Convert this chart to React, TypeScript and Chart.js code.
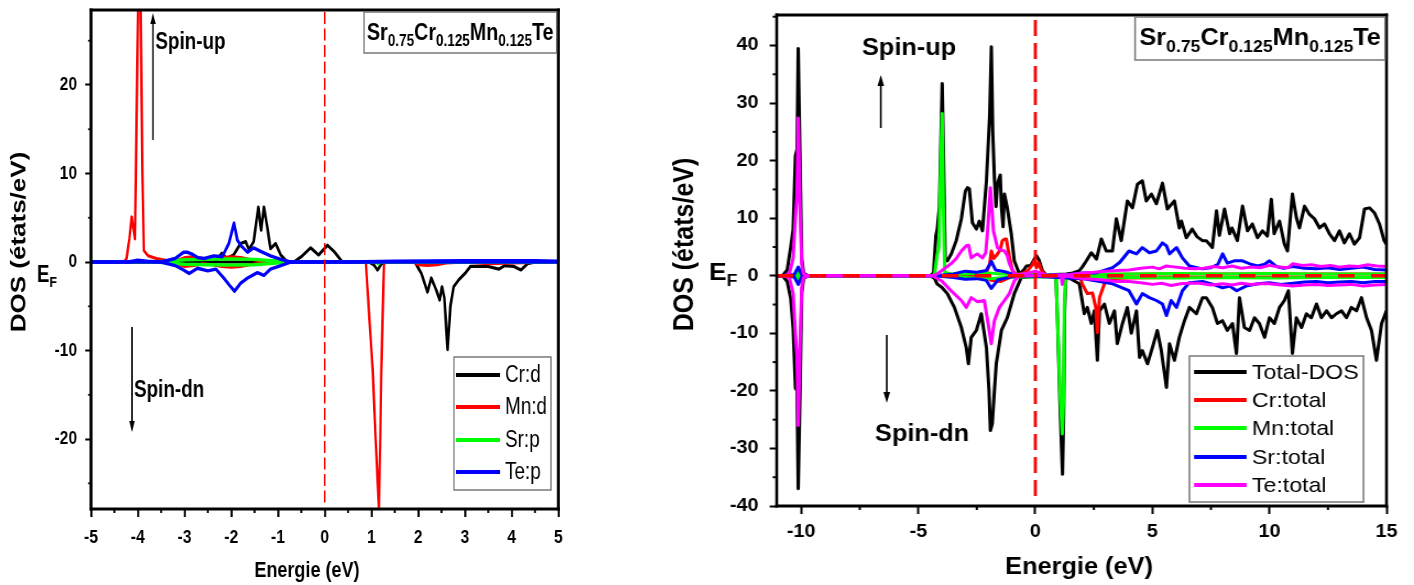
import React, { useEffect, useRef } from 'react';
import { Chart, registerables } from 'chart.js';

Chart.register(...registerables);

const FONT = '"Liberation Sans", Arial, Helvetica, sans-serif';

type Pt = [number, number];

// ---------------- LEFT PANEL DATA (E in eV, DOS in états/eV) ----------------
const leftXTicks = { min: -5, max: 5, step: 1 };
const leftYRange = { min: -27.9, max: 28.47, step: 10 };
const leftLegendLabels = ['Cr:d', 'Mn:d', 'Sr:p', 'Te:p'];
const leftColors = ['#000000', '#ff0000', '#00ff00', '#0000ff'];

const crdUp: Pt[] = [[-5, 0], [-2.45, 0], [-2.3, 0.3], [-2.2, 1.0], [-2.1, 0.4], [-1.95, 0.8], [-1.8, 2.1], [-1.69, 2.3], [-1.62, 1.4], [-1.52, 2.3], [-1.42, 6.2], [-1.36, 3.6], [-1.3, 6.2], [-1.23, 4.0], [-1.16, 1.5], [-1.05, 2.1], [-0.94, 0.8], [-0.8, 0], [-0.66, 0], [-0.5, 0.6], [-0.3, 1.6], [-0.13, 0.8], [0.06, 1.9], [0.2, 1.2], [0.38, 0], [5, 0]];
const crdDn: Pt[] = [[-5, 0], [0.95, 0], [1.05, -0.3], [1.13, -0.9], [1.22, -0.2], [1.35, 0], [1.93, 0], [2.07, -1.3], [2.2, -3.4], [2.28, -1.8], [2.39, -3.2], [2.46, -4.3], [2.51, -2.8], [2.56, -4.0], [2.63, -9.9], [2.69, -5.0], [2.76, -2.8], [2.87, -2.0], [3.0, -1.3], [3.12, -0.5], [3.5, -0.5], [3.73, -0.8], [3.85, -0.4], [4.05, -0.5], [4.2, -0.9], [4.34, -0.2], [4.5, 0], [5, 0]];
const mndUp: Pt[] = [[-5, 0], [-4.3, 0], [-4.24, 0.4], [-4.18, 2.6], [-4.13, 5.1], [-4.06, 2.6], [-3.99, 30], [-3.95, 34], [-3.9, 10], [-3.87, 1.3], [-3.78, 0.7], [-3.6, 0.4], [-3.4, 0.2], [-3.2, 0.1], [-3.0, 0.5], [-2.8, 0.6], [-2.6, 0.4], [-2.4, 0.3], [-2.2, 0.5], [-2.0, 0.6], [-1.8, 0.5], [-1.6, 0.3], [-1.3, 0.1], [-1.0, 0], [5, 0]];
const mndDn: Pt[] = [[-5, 0], [-3.4, 0], [-3.2, -0.2], [-3.0, -0.5], [-2.8, -0.4], [-2.6, -0.2], [-2.4, -0.3], [-2.2, -0.5], [-2.0, -0.6], [-1.8, -0.5], [-1.6, -0.3], [-1.3, -0.1], [-1.0, 0], [0.88, 0], [1.03, -12.5], [1.09, -20], [1.16, -27.7], [1.19, -20], [1.21, -12.5], [1.27, 0], [1.9, 0], [2.0, -0.3], [2.2, -0.4], [2.4, -0.3], [2.6, -0.1], [3.0, 0], [3.5, -0.2], [4.0, -0.1], [5, 0]];
const srpUp: Pt[] = [[-5, 0], [-3.6, 0], [-3.4, 0.1], [-3.0, 0.25], [-2.5, 0.3], [-2.0, 0.35], [-1.5, 0.3], [-1.1, 0.15], [-0.8, 0], [5, 0]];
const srpDn: Pt[] = [[-5, 0], [-3.6, 0], [-3.4, -0.1], [-3.0, -0.25], [-2.5, -0.3], [-2.0, -0.35], [-1.5, -0.3], [-1.1, -0.15], [-0.8, 0], [1.1, 0], [1.15, -0.2], [1.2, 0], [5, 0]];
const tepUp: Pt[] = [[-5, 0], [-4.2, 0], [-4.0, 0.2], [-3.8, 0.1], [-3.5, 0], [-3.2, 0.4], [-3.02, 1.1], [-2.93, 1.1], [-2.84, 0.9], [-2.72, 0.5], [-2.58, 0.4], [-2.37, 0.7], [-2.19, 0.6], [-2.05, 2.1], [-1.94, 4.4], [-1.87, 2.5], [-1.8, 1.9], [-1.65, 1.1], [-1.52, 1.6], [-1.37, 1.2], [-1.16, 0.7], [-0.94, 0.3], [-0.73, 0], [0.5, 0], [1.5, 0.1], [3.0, 0.15], [4.5, 0.15], [5, 0.1]];
const tepDn: Pt[] = [[-5, 0], [-3.5, 0], [-3.2, -0.4], [-3.02, -0.9], [-2.9, -1.3], [-2.72, -0.7], [-2.5, -1.0], [-2.33, -0.8], [-2.16, -1.8], [-2.01, -2.8], [-1.93, -3.3], [-1.8, -2.4], [-1.65, -1.8], [-1.44, -1.2], [-1.3, -1.5], [-1.16, -0.8], [-0.94, -0.4], [-0.73, 0], [5, 0]];

// ---------------- RIGHT PANEL DATA ----------------
const rightXTicks = { min: -11.05, max: 15, step: 5 };
const rightYRange = { min: -40, max: 45.3, step: 10 };
const rightLegendLabels = ['Total-DOS', 'Cr:total', 'Mn:total', 'Sr:total', 'Te:total'];
const rightColors = ['#000000', '#ff0000', '#00ff00', '#0000ff', '#ff00ff'];

const totUp: Pt[] = [[-11.05, 0], [-10.8, 0], [-10.6, 1], [-10.45, 5], [-10.35, 8], [-10.25, 20.8], [-10.18, 22], [-10.13, 39.5], [-10.05, 20], [-9.98, 3], [-9.9, 0.5], [-9.7, 0], [-4.5, 0], [-4.35, 0.5], [-4.25, 7], [-4.19, 8.1], [-4.1, 12], [-3.98, 33.4], [-3.92, 20], [-3.85, 3], [-3.76, 2.6], [-3.59, 3.8], [-3.38, 6.1], [-3.16, 9.9], [-2.99, 14.7], [-2.9, 15.3], [-2.82, 15.1], [-2.69, 9.2], [-2.52, 8.1], [-2.39, 9.5], [-2.26, 7.8], [-2.09, 16.5], [-1.95, 28], [-1.88, 39.8], [-1.82, 25], [-1.75, 17], [-1.68, 12], [-1.62, 15.9], [-1.5, 17.5], [-1.45, 12], [-1.38, 8.5], [-1.32, 14.2], [-1.2, 11.8], [-1.03, 7.3], [-0.9, 2.6], [-0.68, 0.3], [-0.5, 1.0], [-0.38, 1.7], [-0.2, 1.8], [-0.1, 2.5], [0.04, 3.5], [0.15, 2.8], [0.3, 0.9], [0.47, 0.1], [0.8, 0.2], [1.32, 0.3], [1.6, 0.5], [1.88, 0.9], [2.0, 1.5], [2.18, 2.6], [2.39, 4.0], [2.61, 2.9], [2.82, 6.4], [3.03, 4.3], [3.29, 4.3], [3.46, 9.9], [3.67, 6.1], [3.93, 13], [4.15, 11.8], [4.36, 15.9], [4.57, 16.5], [4.74, 13], [4.96, 14.2], [5.17, 12.5], [5.43, 16.1], [5.64, 11.6], [5.94, 13], [6.15, 8.3], [6.24, 9.5], [6.45, 6.6], [6.7, 8.1], [6.9, 6.8], [7.14, 6.1], [7.3, 6.1], [7.56, 4.9], [7.74, 11.3], [7.86, 7], [8.08, 11.6], [8.3, 7.3], [8.4, 8.3], [8.63, 6.1], [8.85, 12.1], [9.06, 7.8], [9.27, 9], [9.49, 6.6], [9.7, 7.8], [9.91, 6.9], [10.08, 13.3], [10.2, 7.3], [10.43, 9.5], [10.64, 5.5], [10.77, 4.3], [10.98, 14.2], [11.15, 10.1], [11.28, 8.3], [11.5, 12.1], [11.7, 10.7], [11.92, 9.9], [12.14, 8.3], [12.35, 9], [12.56, 7.3], [12.78, 6.1], [12.99, 7.8], [13.2, 5.7], [13.42, 7.3], [13.63, 5.5], [13.85, 6.6], [14.06, 11.6], [14.27, 11.8], [14.49, 10.9], [14.7, 9], [14.9, 6.1], [15, 5.5]];
const totDn: Pt[] = [[-11.05, 0], [-10.8, 0], [-10.6, -1], [-10.45, -4], [-10.35, -9], [-10.25, -19.5], [-10.18, -20], [-10.13, -37], [-10.05, -20], [-9.98, -3], [-9.9, -0.5], [-9.7, 0], [-4.5, 0], [-4.3, -0.5], [-4.2, -1.4], [-4.0, -2], [-3.76, -3.1], [-3.46, -5.5], [-3.16, -9], [-2.95, -12.5], [-2.86, -15.3], [-2.74, -10.7], [-2.52, -9.5], [-2.31, -6.6], [-2.09, -12.5], [-1.98, -20], [-1.92, -26.9], [-1.84, -25.7], [-1.75, -20], [-1.67, -15.3], [-1.45, -9.5], [-1.2, -7.3], [-0.9, -3.1], [-0.6, -0.3], [-0.3, -0.2], [0.5, -0.1], [0.88, -0.2], [0.95, -8], [1.05, -22], [1.16, -34.5], [1.21, -24], [1.25, -6], [1.3, -0.5], [1.4, -0.3], [1.88, -1.4], [2.09, -6.6], [2.22, -5.5], [2.39, -8.3], [2.52, -6.1], [2.65, -14.7], [2.74, -6.1], [2.95, -4.9], [3.16, -8.3], [3.38, -6.1], [3.5, -11.8], [3.72, -8.3], [3.93, -5.5], [4.1, -10], [4.32, -6.1], [4.45, -14.2], [4.57, -13], [4.79, -15.3], [5.0, -12.5], [5.21, -9.5], [5.38, -13], [5.6, -19.4], [5.73, -11.8], [5.94, -14.7], [6.15, -10.7], [6.37, -7.8], [6.58, -5.5], [6.88, -6.6], [7.14, -3.8], [7.3, -3.8], [7.56, -5.5], [7.78, -8.3], [7.99, -7.8], [8.2, -9.5], [8.42, -8.3], [8.59, -13.5], [8.72, -3.8], [8.93, -9], [9.15, -9.5], [9.36, -7.3], [9.57, -8.3], [9.79, -10.7], [10.0, -7.3], [10.21, -8.3], [10.43, -5.5], [10.64, -4.3], [10.81, -2.6], [10.98, -13.5], [11.15, -7.3], [11.37, -9], [11.58, -6.6], [11.79, -7.3], [12.01, -4.9], [12.22, -7.3], [12.44, -6.1], [12.65, -7.3], [12.86, -6.6], [13.08, -6.1], [13.29, -7.3], [13.5, -5.5], [13.72, -6.1], [13.93, -3.8], [14.15, -7.3], [14.36, -9.5], [14.57, -14.7], [14.79, -8.3], [15, -6.1]];
const crUp: Pt[] = [[-11.05, 0], [-2.3, 0], [-2.1, 0.5], [-1.95, 2], [-1.88, 4.3], [-1.78, 3], [-1.67, 3.5], [-1.5, 4.5], [-1.41, 6.1], [-1.3, 6.4], [-1.24, 6.4], [-1.1, 3.1], [-0.98, 0.9], [-0.8, 0.2], [-0.55, 0.4], [-0.3, 1.0], [-0.15, 1.8], [-0.05, 2.6], [0.05, 1.4], [0.13, 2.3], [0.25, 1.0], [0.4, 0.2], [0.6, 0], [2, 0.2], [5, 0.3], [10, 0.3], [15, 0.3]];
const crDn: Pt[] = [[-11.05, 0], [-2.2, 0], [-1.9, -0.8], [-1.5, -1], [-1.2, -0.5], [-0.9, 0], [1.9, 0], [2.0, -1.4], [2.22, -3.1], [2.44, -3.0], [2.58, -5.5], [2.65, -9.9], [2.74, -3.8], [2.95, -1.4], [3.08, -0.5], [4, -0.4], [6, -0.3], [10, -0.3], [15, -0.3]];
const mnUp: Pt[] = [[-11.05, 0], [-10.2, 0], [-10.12, 0.6], [-10.05, 0], [-4.4, 0], [-4.3, 0.4], [-4.2, 3.5], [-4.12, 5], [-4.04, 20], [-3.98, 28.2], [-3.93, 12], [-3.87, 0.6], [-3.6, 0.3], [-3, 0.3], [-2, 0.5], [-1.5, 0.3], [-1, 0.2], [0, 0.3], [1, 0.1], [2, 0.2], [4, 0.3], [6, 0.4], [8, 0.3], [10, 0.4], [12, 0.3], [15, 0.3]];
const mnDn: Pt[] = [[-11.05, 0], [-10.2, 0], [-10.12, -0.6], [-10.05, 0], [-4.4, 0], [-3, -0.3], [-2, -0.5], [-1, -0.2], [0.88, -0.2], [0.95, -8], [1.05, -20], [1.15, -27.5], [1.2, -22], [1.24, -5], [1.3, -0.5], [1.4, -0.2], [2, -0.2], [4, -0.3], [6, -0.4], [8, -0.3], [10, -0.4], [12, -0.3], [15, -0.3]];
const srUp: Pt[] = [[-11.05, 0], [-10.3, 0.2], [-10.13, 1.5], [-9.98, 0.2], [-9.8, 0], [-4.3, 0], [-3.5, 0.3], [-3.0, 0.8], [-2.5, 0.6], [-2.1, 0.9], [-1.88, 2.5], [-1.7, 1.0], [-1.3, 0.7], [-0.9, 0.2], [-0.5, 0], [1.5, 0.2], [2.0, 0.5], [2.6, 0.5], [3.3, 1.4], [3.6, 2.3], [4.0, 4.3], [4.32, 3.8], [4.57, 4.9], [4.87, 4.0], [5.17, 4.3], [5.43, 5.7], [5.6, 5.2], [5.73, 3.8], [6.03, 4.9], [6.28, 3.1], [6.58, 1.7], [7.14, 1.2], [7.5, 1.4], [7.8, 2.0], [8.0, 3.8], [8.2, 2.2], [8.5, 2.6], [8.85, 2.6], [9.2, 2.0], [9.5, 1.7], [9.8, 2.0], [10.0, 2.6], [10.3, 1.6], [10.6, 1.3], [11, 1.6], [11.5, 1.3], [12, 1.2], [12.5, 1.4], [13, 1.1], [13.5, 1.3], [14, 1.5], [14.5, 1.1], [15, 1.0]];
const srDn: Pt[] = [[-11.05, 0], [-10.3, -0.2], [-10.13, -1.5], [-9.98, -0.2], [-9.8, 0], [-4.3, 0], [-3.5, -0.3], [-3.0, -0.6], [-2.5, -0.5], [-2.1, -0.8], [-1.88, -2.2], [-1.6, -0.7], [-1.0, -0.2], [-0.5, 0], [2.0, -0.5], [3.3, -1.4], [4.0, -2.6], [4.32, -4.9], [4.57, -3.1], [4.87, -3.8], [5.17, -4.3], [5.43, -4.9], [5.6, -6.9], [5.8, -4.3], [6.03, -5.5], [6.28, -2.6], [6.58, -1.2], [7.14, -1.0], [7.6, -1.5], [8.0, -2.1], [8.3, -1.8], [8.6, -2.6], [9.0, -1.8], [9.5, -1.4], [10, -1.2], [10.5, -1.5], [11, -1.3], [11.5, -1.1], [12, -1.0], [12.5, -1.2], [13, -1.1], [13.5, -1.0], [14, -1.2], [14.5, -1.0], [15, -1.0]];
const teUp: Pt[] = [[-11.05, 0], [-10.7, 0], [-10.5, 0.5], [-10.35, 3], [-10.25, 10], [-10.18, 14], [-10.13, 27.4], [-10.05, 12], [-9.98, 2], [-9.9, 0.3], [-9.7, 0], [-4.4, 0], [-4.2, 0.3], [-4.0, 0.9], [-3.8, 1.5], [-3.6, 2.1], [-3.38, 3], [-3.16, 4.3], [-2.95, 5.2], [-2.85, 5.3], [-2.74, 3.1], [-2.6, 3.5], [-2.48, 3.8], [-2.26, 3.1], [-2.12, 4.0], [-2.05, 7.3], [-1.92, 15.3], [-1.79, 7.8], [-1.62, 4.9], [-1.5, 4.5], [-1.32, 4.3], [-1.2, 3.5], [-1.11, 2.1], [-0.9, 0.3], [-0.7, 0.2], [-0.3, 0.5], [0, 0.8], [0.2, 0.5], [0.5, 0.1], [1.5, 0.2], [2, 0.5], [2.5, 0.6], [3, 0.8], [3.5, 0.9], [4, 1.0], [4.5, 1.3], [5, 1.5], [5.3, 1.2], [5.6, 1.7], [6, 1.5], [6.4, 1.3], [6.8, 1.2], [7.2, 1.3], [7.6, 1.6], [8, 1.4], [8.4, 1.7], [8.8, 1.3], [9.2, 1.5], [9.6, 1.4], [10, 1.8], [10.4, 1.5], [10.8, 1.4], [11, 2.1], [11.4, 1.8], [11.8, 1.9], [12.2, 1.6], [12.6, 1.8], [13, 1.5], [13.4, 1.7], [13.8, 1.6], [14.2, 1.9], [14.6, 1.7], [15, 1.6]];
const teDn: Pt[] = [[-11.05, 0], [-10.7, 0], [-10.5, -0.5], [-10.35, -3], [-10.25, -10], [-10.18, -14], [-10.13, -26], [-10.05, -12], [-9.98, -2], [-9.9, -0.3], [-9.7, 0], [-4.4, 0], [-4.0, -0.9], [-3.6, -2.6], [-3.16, -4.3], [-2.95, -5.5], [-2.74, -3.8], [-2.48, -4.5], [-2.18, -4.3], [-1.97, -9.5], [-1.88, -11.8], [-1.75, -7.8], [-1.54, -5.5], [-1.32, -4.3], [-1.11, -3.1], [-0.9, -0.9], [-0.7, 0], [1.1, 0], [1.15, -1.5], [1.2, 0], [2, -0.5], [2.5, -0.6], [3, -0.8], [3.5, -1.0], [4, -1.0], [4.5, -1.2], [5, -1.5], [5.4, -1.3], [5.8, -1.7], [6.2, -1.4], [6.6, -1.3], [7, -1.3], [7.5, -1.6], [8, -1.4], [8.4, -1.6], [8.8, -1.3], [9.2, -1.5], [9.6, -1.4], [10, -1.4], [10.5, -1.6], [11, -1.8], [11.5, -1.6], [12, -1.5], [12.5, -1.7], [13, -1.6], [13.5, -1.5], [14, -1.8], [14.5, -1.6], [15, -1.5]];

// title: [text, isSubscript]
const titleParts: [string, boolean][] = [['Sr', false], ['0.75', true], ['Cr', false], ['0.125', true], ['Mn', false], ['0.125', true], ['Te', false]];
const yTitle = 'DOS (états/eV)';
const xTitle = 'Energie (eV)';

// ---------------- geometry (canvas internal coordinates) ----------------
const LW = 805, LCSS = 660; // left canvas horizontally compressed
const RW = 685, RCSS = 754; // right canvas horizontally stretched

const toXY = (a: Pt[]) => a.map(([x, y]) => ({ x, y }));

function ds(label: string, pts: Pt[], color: string, order: number, width: number) {
  return { label, data: toXY(pts), borderColor: color, backgroundColor: color, borderWidth: width, pointRadius: 0, tension: 0, fill: false, order, borderJoinStyle: 'round' as const };
}

function drawArrow(ctx: any, x: number, yFrom: number, yTip: number, hw: number, hl: number, lw: number) {
  const dir = yTip < yFrom ? 1 : -1;
  ctx.save();
  ctx.strokeStyle = '#000';
  ctx.fillStyle = '#000';
  ctx.lineWidth = lw;
  ctx.beginPath();
  ctx.moveTo(x, yFrom);
  ctx.lineTo(x, yTip + dir * hl * 0.8);
  ctx.stroke();
  ctx.beginPath();
  ctx.moveTo(x, yTip);
  ctx.lineTo(x - hw, yTip + dir * hl);
  ctx.lineTo(x + hw, yTip + dir * hl);
  ctx.closePath();
  ctx.fill();
  ctx.restore();
}

function drawParts(ctx: any, x: number, yBase: number, ySub: number, big: number, small: number) {
  let cx = x;
  for (const [t, sub] of titleParts) {
    ctx.font = `bold ${sub ? small : big}px ${FONT}`;
    ctx.fillText(t, cx, sub ? ySub : yBase);
    cx += ctx.measureText(t).width;
  }
}

function drawEF(ctx: any, x: number, yBase: number, big: number, small: number, subDy: number) {
  ctx.font = `bold ${big}px ${FONT}`;
  ctx.fillText('E', x, yBase);
  const w = ctx.measureText('E').width;
  ctx.font = `bold ${small}px ${FONT}`;
  ctx.fillText('F', x + w, yBase + subDy);
}

function drawFrame(ctx: any, a: any, wv: number, wh: number) {
  ctx.save();
  ctx.fillStyle = '#000';
  ctx.fillRect(a.left - wv / 2, a.top - wh / 2, wv, a.bottom - a.top + wh);
  ctx.fillRect(a.right - wv / 2, a.top - wh / 2, wv, a.bottom - a.top + wh);
  ctx.fillRect(a.left - wv / 2, a.top - wh / 2, a.right - a.left + wv, wh);
  ctx.fillRect(a.left - wv / 2, a.bottom - wh / 2, a.right - a.left + wv, wh);
  ctx.restore();
}

function minorTicks(ctx: any, chart: any, xs: number[], ys: number[], len: number, lwx: number, lwy: number) {
  const a = chart.chartArea;
  const sx = chart.scales.x, sy = chart.scales.y;
  ctx.save();
  ctx.fillStyle = '#000';
  for (const v of xs) {
    const p = sx.getPixelForValue(v);
    ctx.fillRect(p - lwx / 2, a.bottom, lwx, len);
  }
  for (const v of ys) {
    const p = sy.getPixelForValue(v);
    ctx.fillRect(a.left - len * 0.9, p - lwy / 2, len * 0.9, lwy);
  }
  ctx.restore();
}

function drawLegend(ctx: any, box: number[], rows: number[], labels: string[], colors: string[], lx0: number, lx1: number, tx: number, size: number, lw: number) {
  ctx.save();
  ctx.strokeStyle = '#777';
  ctx.lineWidth = 1.5;
  ctx.strokeRect(box[0], box[1], box[2] - box[0], box[3] - box[1]);
  ctx.font = `${size}px ${FONT}`;
  ctx.textBaseline = 'middle';
  ctx.fillStyle = '#000';
  labels.forEach((lab, i) => {
    ctx.strokeStyle = colors[i];
    ctx.lineWidth = lw;
    ctx.beginPath(); ctx.moveTo(lx0, rows[i]); ctx.lineTo(lx1, rows[i]); ctx.stroke();
    ctx.fillText(lab, tx, rows[i] + 1);
  });
  ctx.restore();
}

const leftPlugin = {
  id: 'leftDecor',
  afterDatasetsDraw(chart: any) {
    const { ctx, chartArea: a, scales } = chart;
    ctx.save();
    const x0 = scales.x.getPixelForValue(0);
    ctx.strokeStyle = '#ff0000';
    ctx.lineWidth = 2;
    ctx.setLineDash([12, 4.5]);
    ctx.beginPath(); ctx.moveTo(x0, a.top + 2); ctx.lineTo(x0, a.bottom - 4); ctx.stroke();
    ctx.setLineDash([]);
    ctx.restore();
    drawFrame(ctx, a, 3.6, 3);
    minorTicks(ctx, chart, [-4.5, -3.5, -2.5, -1.5, -0.5, 0.5, 1.5, 2.5, 3.5, 4.5], [-25, -15, -5, 5, 15, 25], 4, 2.4, 1.8);
  },
  afterDraw(chart: any) {
    const { ctx } = chart;
    ctx.save();
    ctx.fillStyle = '#000';
    ctx.textBaseline = 'alphabetic';
    ctx.textAlign = 'left';
    // title box
    ctx.strokeStyle = '#777'; ctx.lineWidth = 1.5;
    ctx.strokeRect(444, 12, 678.7 - 444, 41);
    drawParts(ctx, 447.6, 40, 46, 24, 16.5);
    // spin labels + arrows
    ctx.font = `bold 23px ${FONT}`;
    ctx.fillText('Spin-up', 189.5, 49);
    ctx.fillText('Spin-dn', 163.4, 397);
    drawArrow(ctx, 186.6, 140, 13, 3.3, 11, 1.8);
    drawArrow(ctx, 161, 327, 432, 3.3, 11, 1.8);
    // E_F
    drawEF(ctx, 45, 282, 23, 15, 5);
    // axis titles
    ctx.font = `bold 22px ${FONT}`;
    ctx.textAlign = 'center';
    ctx.fillText(xTitle, 374.4, 577);
    ctx.save();
    ctx.translate(30.5, 242);
    ctx.rotate(-Math.PI / 2);
    ctx.font = `bold 26px ${FONT}`;
    ctx.fillText(yTitle, 0, 0);
    ctx.restore();
    ctx.restore();
    drawLegend(ctx, [553.7, 357, 672, 490], [375, 407, 440, 472], leftLegendLabels, leftColors, 556, 610, 616, 23, 4);
  },
};

const rightPlugin = {
  id: 'rightDecor',
  afterDatasetsDraw(chart: any) {
    const { ctx, chartArea: a, scales } = chart;
    ctx.save();
    const y0 = scales.y.getPixelForValue(0);
    ctx.strokeStyle = '#ff0000';
    ctx.lineWidth = 3.5;
    ctx.setLineDash([15, 15]);
    ctx.beginPath(); ctx.moveTo(a.left, y0); ctx.lineTo(a.right, y0); ctx.stroke();
    const x0 = scales.x.getPixelForValue(0);
    ctx.lineWidth = 2.8;
    ctx.setLineDash([16, 7]);
    ctx.beginPath(); ctx.moveTo(x0, a.top + 5); ctx.lineTo(x0, a.bottom - 8); ctx.stroke();
    ctx.setLineDash([]);
    ctx.restore();
    drawFrame(ctx, a, 2.6, 3);
    minorTicks(ctx, chart, [-7.5, -2.5, 2.5, 7.5, 12.5], [-35, -25, -15, -5, 5, 15, 25, 35, 45], 4, 2, 2);
  },
  afterDraw(chart: any) {
    const { ctx } = chart;
    ctx.save();
    ctx.fillStyle = '#000';
    ctx.textBaseline = 'alphabetic';
    ctx.textAlign = 'left';
    ctx.strokeStyle = '#777'; ctx.lineWidth = 1.5;
    ctx.strokeRect(431.6, 17, 658.7 - 431.6, 43);
    drawParts(ctx, 435.5, 45, 52, 23, 16);
    ctx.font = `bold 23px ${FONT}`;
    ctx.fillText('Spin-up', 183.5, 55);
    ctx.fillText('Spin-dn', 195.3, 441);
    drawArrow(ctx, 200.6, 128, 75, 3, 11, 1.6);
    drawArrow(ctx, 206, 335, 403, 3, 11, 1.6);
    drawEF(ctx, 44.5, 280, 24, 16, 6);
    ctx.font = `bold 23px ${FONT}`;
    ctx.textAlign = 'center';
    ctx.fillText(xTitle, 380.7, 574);
    ctx.save();
    ctx.translate(30, 244.5);
    ctx.rotate(-Math.PI / 2);
    ctx.font = `bold 25px ${FONT}`;
    ctx.fillText(yTitle, 0, 0);
    ctx.restore();
    ctx.restore();
    drawLegend(ctx, [481, 356, 639.1, 502], [372, 400, 428, 457, 485], rightLegendLabels, rightColors, 485.2, 532.9, 537.8, 21, 4);
  },
};

function zeroPad(s: any) {
  s.paddingTop = 0; s.paddingBottom = 0; s.paddingLeft = 0; s.paddingRight = 0;
}

function axes(xr: any, yr: any, o: any) {
  return {
    x: {
      type: 'linear', min: xr.min, max: xr.max,
      ticks: { stepSize: xr.step, includeBounds: false, color: '#000', padding: o.xPad, font: { family: FONT, size: o.tickSize, weight: 'bold' }, callback: (v: any) => String(v), maxRotation: 0 },
      grid: { drawOnChartArea: false, drawTicks: true, tickLength: 8, tickWidth: o.xTickW, tickColor: '#000', color: '#000' },
      border: { display: false },
      afterFit: (s: any) => { s.height = o.xH; zeroPad(s); },
    },
    y: {
      type: 'linear', min: yr.min, max: yr.max,
      ticks: { stepSize: yr.step, includeBounds: false, color: '#000', padding: o.yPad, font: { family: FONT, size: o.tickSize, weight: 'bold' }, callback: (v: any) => String(v) },
      grid: { drawOnChartArea: false, drawTicks: true, tickLength: o.yTL, tickWidth: 2, tickColor: '#000', color: '#000' },
      border: { display: false },
      afterFit: (s: any) => { s.width = o.yW; zeroPad(s); },
    },
  };
}

const baseOpts = {
  responsive: false,
  animation: false,
  events: [],
  plugins: { legend: { display: false }, tooltip: { enabled: false }, title: { display: false } },
};

function leftConfig(): any {
  return {
    type: 'line',
    data: {
      datasets: [
        ds(leftLegendLabels[0], crdUp, leftColors[0], 4, 3.2),
        ds(leftLegendLabels[0] + ' dn', crdDn, leftColors[0], 4, 3.2),
        ds(leftLegendLabels[1], mndUp, leftColors[1], 3, 3),
        ds(leftLegendLabels[1] + ' dn', mndDn, leftColors[1], 3, 3),
        ds(leftLegendLabels[2], srpUp, leftColors[2], 2, 3.4),
        ds(leftLegendLabels[2] + ' dn', srpDn, leftColors[2], 2, 3.4),
        ds(leftLegendLabels[3], tepUp, leftColors[3], 1, 3.4),
        ds(leftLegendLabels[3] + ' dn', tepDn, leftColors[3], 1, 3.4),
      ],
    },
    options: {
      ...baseOpts,
      layout: { padding: { left: 0, right: LW - 681, top: 10, bottom: 0 } },
      scales: axes(leftXTicks, leftYRange, { tickSize: 19, xPad: 9, yPad: 10, yTL: 7, xTickW: 2.5, xH: 76, yW: 111 }),
    },
    plugins: [leftPlugin],
  };
}

function rightConfig(): any {
  return {
    type: 'line',
    data: {
      datasets: [
        ds(rightLegendLabels[0], totUp, rightColors[0], 6, 3),
        ds(rightLegendLabels[0] + ' dn', totDn, rightColors[0], 6, 3),
        ds(rightLegendLabels[1], crUp, rightColors[1], 5, 3),
        ds(rightLegendLabels[1] + ' dn', crDn, rightColors[1], 5, 3),
        ds(rightLegendLabels[2], mnUp, rightColors[2], 4, 3),
        ds(rightLegendLabels[2] + ' dn', mnDn, rightColors[2], 4, 3),
        ds(rightLegendLabels[3], srUp, rightColors[3], 3, 3),
        ds(rightLegendLabels[3] + ' dn', srDn, rightColors[3], 3, 3),
        ds(rightLegendLabels[4], teUp, rightColors[4], 2, 3),
        ds(rightLegendLabels[4] + ' dn', teDn, rightColors[4], 2, 3),
      ],
    },
    options: {
      ...baseOpts,
      layout: { padding: { left: 0, right: 25, top: 15, bottom: 0 } },
      scales: axes(rightXTicks, rightYRange, { tickSize: 18, xPad: 7, yPad: 10, yTL: 6.4, xTickW: 2, xH: 79, yW: 106 }),
    },
    plugins: [rightPlugin],
  };
}

export default function App() {
  const leftRef = useRef<HTMLCanvasElement>(null);
  const rightRef = useRef<HTMLCanvasElement>(null);
  useEffect(() => {
    const c1 = new Chart(leftRef.current as HTMLCanvasElement, leftConfig());
    const c2 = new Chart(rightRef.current as HTMLCanvasElement, rightConfig());
    return () => { c1.destroy(); c2.destroy(); };
  }, []);
  return (
    <div style={{ position: 'absolute', left: 0, top: 0, width: 1414, height: 585, background: '#fff', overflow: 'hidden' }}>
      <canvas ref={leftRef} width={LW} height={585} style={{ position: 'absolute', left: 0, top: 0, width: `${LCSS}px`, height: '585px' }} />
      <canvas ref={rightRef} width={RW} height={585} style={{ position: 'absolute', left: `${LCSS}px`, top: 0, width: `${RCSS}px`, height: '585px' }} />
    </div>
  );
}
